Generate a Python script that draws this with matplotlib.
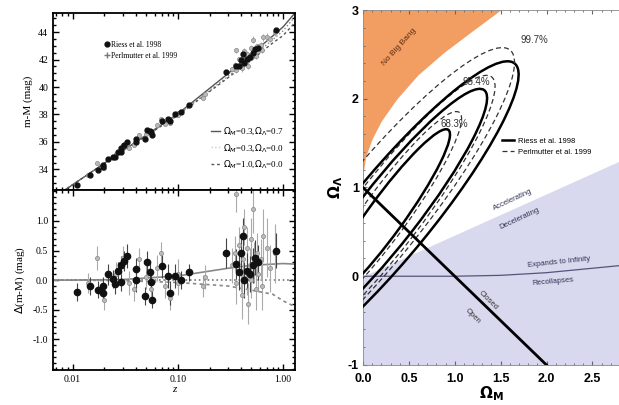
import numpy as np
import matplotlib.pyplot as plt
from matplotlib.patches import Ellipse
from matplotlib.ticker import FixedLocator, FixedFormatter, MultipleLocator, NullFormatter

# ---- Hubble diagram data ----
riess_z = [0.011, 0.0145, 0.0173, 0.0193, 0.0195, 0.0218, 0.024, 0.025, 0.027, 0.029,
           0.031, 0.033, 0.029, 0.040, 0.040, 0.049, 0.051, 0.054, 0.055, 0.057,
           0.070, 0.080, 0.085, 0.094, 0.106, 0.128,
           0.286, 0.355, 0.38, 0.42, 0.40, 0.43, 0.45, 0.49, 0.52, 0.54, 0.58, 0.86]
riess_mu = [32.89, 33.62, 33.96, 34.16, 34.29, 34.74, 34.88, 34.88, 35.28, 35.53,
            35.76, 35.99, 35.24, 36.19, 36.01, 36.20, 36.86, 36.82, 36.70, 36.48,
            37.50, 37.65, 37.49, 38.01, 38.15, 38.70,
            41.12, 41.50, 41.54, 42.42, 41.99, 41.73, 42.01, 42.18, 42.50, 42.74, 42.86, 44.16]
riess_dmu = [-0.20, -0.10, -0.16, -0.21, -0.10, 0.10, 0.02, -0.07, 0.16, 0.25,
             0.33, 0.41, -0.04, 0.18, 0.00, -0.27, 0.30, 0.13, -0.03, -0.33,
             0.23, 0.07, -0.22, 0.07, 0.00, 0.13,
             0.46, 0.27, 0.13, 0.75, 0.45, 0.00, 0.16, 0.10, 0.25, 0.38, 0.30, 0.50]
riess_err = [0.15, 0.15, 0.15, 0.15, 0.15, 0.18, 0.15, 0.17, 0.15, 0.15,
             0.17, 0.20, 0.15, 0.20, 0.20, 0.15, 0.20, 0.20, 0.15, 0.15,
             0.20, 0.20, 0.20, 0.20, 0.15, 0.15,
             0.25, 0.25, 0.30, 0.30, 0.30, 0.30, 0.30, 0.30, 0.30, 0.30, 0.30, 0.30]

perl_z = [0.014, 0.017, 0.020, 0.026, 0.030, 0.034, 0.038, 0.043, 0.050, 0.056,
          0.063, 0.069, 0.075, 0.084, 0.100, 0.101,
          0.172, 0.18, 0.33, 0.35, 0.36, 0.38, 0.40, 0.41, 0.42, 0.43, 0.45, 0.45,
          0.46, 0.48, 0.50, 0.50, 0.52, 0.53, 0.55, 0.57, 0.58, 0.62, 0.63, 0.65,
          0.70, 0.75, 0.83, 0.355]
perl_mu = [33.59, 34.45, 34.12, 35.14, 35.74, 35.59, 35.75, 36.52, 36.56, 36.62,
           37.24, 37.69, 37.33, 37.39, 38.10, 37.95,
           39.23, 39.50, 41.28, 41.64, 41.21, 42.01, 41.69, 41.36, 42.02, 42.63, 41.90, 42.40,
           41.51, 42.27, 42.14, 42.84, 43.45, 42.60, 42.26, 42.96, 42.66, 43.10, 42.69, 43.63,
           43.64, 43.49, 44.01, 42.68]
perl_dmu = [-0.05, 0.37, -0.33, 0.10, 0.38, -0.05, -0.15, 0.35, 0.05, -0.15,
            0.20, 0.45, -0.10, -0.30, 0.10, -0.05,
            -0.10, 0.05, 0.25, 0.45, -0.05, 0.60, 0.15, -0.25, 0.35, 0.90, 0.05, 0.55,
            -0.40, 0.25, 0.00, 0.70, 1.20, 0.30, -0.15, 0.45, 0.10, 0.35, -0.10, 0.75,
            0.55, 0.20, 0.45, 1.45]
perl_err = [0.17, 0.20, 0.18, 0.20, 0.20, 0.20, 0.20, 0.20, 0.20, 0.20,
            0.22, 0.20, 0.20, 0.20, 0.25, 0.20,
            0.18, 0.20, 0.30, 0.30, 0.35, 0.30, 0.35, 0.40, 0.30, 0.30, 0.30, 0.35,
            0.35, 0.30, 0.30, 0.35, 0.40, 0.35, 0.35, 0.35, 0.30, 0.35, 0.40, 0.45,
            0.50, 0.40, 0.50, 0.30]

# model curves
model_z = [0.0065, 0.01, 0.03, 0.1, 0.3, 0.5, 0.8, 1.0, 1.3]
mu_lam = [31.91, 32.88, 35.36, 38.05, 40.98, 42.39, 43.73, 44.38, 45.40]
mu_open = [31.91, 32.88, 35.35, 37.98, 40.78, 42.14, 43.46, 44.10, 45.13]
mu_eds = [31.91, 32.88, 35.34, 37.94, 40.68, 41.97, 43.22, 43.75, 44.70]
d_lam = [0, 0, 0.01, 0.07, 0.20, 0.25, 0.27, 0.28, 0.27]
d_open = [0, 0, 0, 0, 0, 0, 0, 0, 0]
d_eds = [0, 0, -0.01, -0.04, -0.10, -0.17, -0.24, -0.35, -0.45]

# ---- Omega_M / Omega_Lambda plane ----
nbb_om = [0, 0.03, 0.1, 0.2, 0.37, 0.6, 0.88, 1.2, 1.5]
nbb_ol = [1.15, 1.35, 1.55, 1.75, 2.0, 2.27, 2.52, 2.77, 3.0]
acc_om = [0, 2.8]
acc_ol = [0, 1.3]
exp_om = [0, 1.0, 1.5, 2.0, 2.5, 2.8]
exp_ol = [0, 0, 0.01, 0.04, 0.09, 0.12]
flat_om = [0, 2]
flat_ol = [1, -1]

levels = ['68.3%', '95.4%', '99.7%']
riess_cx = [0.241, 0.267, 0.284]
riess_cy = [0.667, 0.70, 0.675]
riess_a = [1.2, 1.75, 2.2]
riess_b = [0.20, 0.33, 0.455]
riess_ang = [55, 53, 51.6]
perl_cx = [0.246, 0.24, 0.122]
perl_cy = [0.70, 0.68, 0.66]
perl_a = [1.4, 1.95, 2.4]
perl_b = [0.25, 0.38, 0.50]
perl_ang = [55, 53.5, 52]

serif = 'Liberation Serif'
sans = 'Liberation Sans'

fig = plt.figure(figsize=(6.19, 4.05), dpi=100)
ax1 = fig.add_axes([0.0856, 0.531, 0.391, 0.437])
ax2 = fig.add_axes([0.0856, 0.0864, 0.391, 0.444])
ax3 = fig.add_axes([0.5864, 0.0988, 0.4136, 0.8765])

# top: distance modulus
ax1.plot(model_z, mu_lam, '-', color='#555555', lw=1.0)
ax1.plot(model_z, mu_open, ':', color='#888888', lw=1.0)
ax1.plot(model_z, mu_eds, '--', color='#555555', lw=1.0, dashes=(2, 2))
ax1.errorbar(perl_z, perl_mu, yerr=np.array(perl_err) * 0.6, fmt='o', ms=3,
             mfc='#bbbbbb', mec='#888888', ecolor='#aaaaaa', elinewidth=0.7, capsize=0, mew=0.5)
ax1.errorbar(riess_z, riess_mu, yerr=np.array(riess_err) * 0.6, fmt='o', ms=3.5,
             color='#111111', ecolor='#444444', elinewidth=0.7, capsize=0)

# bottom: residuals
ax2.plot(model_z, d_lam, '-', color='#888888', lw=1.2)
ax2.plot(model_z, d_open, ':', color='#777777', lw=1.2)
ax2.plot(model_z, d_eds, '--', color='#888888', lw=1.2, dashes=(2, 2))
ax2.errorbar(perl_z, perl_dmu, yerr=perl_err, fmt='o', ms=3,
             mfc='#bbbbbb', mec='#888888', ecolor='#aaaaaa', elinewidth=0.8, capsize=0, mew=0.5)
ax2.errorbar(riess_z, riess_dmu, yerr=riess_err, fmt='o', ms=4.5,
             color='#111111', ecolor='#444444', elinewidth=0.8, capsize=0)

for ax in (ax1, ax2):
    ax.set_xscale('log')
    ax.set_xlim(0.0065, 1.3)
    for s in ax.spines.values():
        s.set_linewidth(1.3)
    ax.tick_params(which='both', direction='in', top=True, right=True, labelsize=7,
                   width=1.0)
    ax.tick_params(which='major', length=4)
    ax.tick_params(which='minor', length=2)

ax1.set_ylim(32.5, 45.4)
ax1.yaxis.set_major_locator(FixedLocator([34, 36, 38, 40, 42, 44]))
ax1.yaxis.set_minor_locator(MultipleLocator(0.5))
ax1.xaxis.set_major_formatter(NullFormatter())
ax1.xaxis.set_minor_formatter(NullFormatter())
ax1.set_ylabel('m-M (mag)', family=serif, fontsize=8)

ax2.set_ylim(-1.52, 1.52)
ax2.yaxis.set_major_locator(FixedLocator([-1.0, -0.5, 0.0, 0.5, 1.0]))
ax2.yaxis.set_major_formatter(FixedFormatter(['-1.0', '-0.5', '0.0', '0.5', '1.0']))
ax2.yaxis.set_minor_locator(MultipleLocator(0.1))
ax2.xaxis.set_major_locator(FixedLocator([0.01, 0.1, 1.0]))
ax2.xaxis.set_major_formatter(FixedFormatter(['0.01', '0.10', '1.00']))
ax2.xaxis.set_minor_formatter(NullFormatter())
ax2.set_ylabel(r'$\Delta$(m-M) (mag)', family=serif, fontsize=8)
ax2.set_xlabel('z', family=serif, style='italic', fontsize=8, labelpad=1)
for lab in ax1.get_yticklabels() + ax2.get_yticklabels() + ax2.get_xticklabels():
    lab.set_family(serif)

# legends in the top panel
h_r = ax1.plot([], [], 'o', color='#111111', ms=3.5)[0]
h_p = ax1.plot([], [], '+', color='#777777', ms=4)[0]
leg1 = ax1.legend([h_r, h_p], ['Riess et al. 1998', 'Perlmutter et al. 1999'],
                  loc='upper left', bbox_to_anchor=(0.2, 0.86), frameon=False,
                  prop={'family': serif, 'size': 5.5}, handlelength=0.6,
                  handletextpad=0.3, labelspacing=0.4, borderaxespad=0)
ax1.add_artist(leg1)
h1 = ax1.plot([], [], '-', color='#555555', lw=1.0)[0]
h2 = ax1.plot([], [], ':', color='#cccccc', lw=1.0)[0]
h3 = ax1.plot([], [], '--', color='#555555', lw=1.0, dashes=(2, 2))[0]
ax1.legend([h1, h2, h3],
           [r'$\Omega_M$=0.3,$\Omega_\Lambda$=0.7', r'$\Omega_M$=0.3,$\Omega_\Lambda$=0.0',
            r'$\Omega_M$=1.0,$\Omega_\Lambda$=0.0'],
           loc='lower right', bbox_to_anchor=(0.97, 0.09), frameon=False,
           prop={'family': serif, 'size': 6.5}, handlelength=1.0,
           handletextpad=0.4, labelspacing=0.5, borderaxespad=0)

# right panel: Omega_M - Omega_Lambda plane
ax3.set_xlim(0, 2.79)
ax3.set_ylim(-1, 3)
ax3.fill_between(acc_om, -1, acc_ol, color='#d8d8ee', lw=0, zorder=0)
ax3.fill_between(nbb_om, nbb_ol, 3, color='#f29d62', lw=0, zorder=1)
ax3.plot(exp_om, exp_ol, '-', color='#55557a', lw=0.9, zorder=2)
ax3.plot(flat_om, flat_ol, '-', color='black', lw=2.0, zorder=4)

for i in range(3):
    e = Ellipse((riess_cx[i], riess_cy[i]), 2 * riess_a[i], 2 * riess_b[i],
                angle=riess_ang[i], fill=False, ec='black', lw=1.8, zorder=3)
    ax3.add_patch(e)
    e = Ellipse((perl_cx[i], perl_cy[i]), 2 * perl_a[i], 2 * perl_b[i],
                angle=perl_ang[i], fill=False, ec='#333333', lw=0.9, ls=(0, (4, 2.5)),
                zorder=3)
    ax3.add_patch(e)

ax3.text(1.0, 1.72, levels[0], fontsize=7, family=sans, ha='center', va='center',
         color='#333333', zorder=5)
ax3.text(1.24, 2.19, levels[1], fontsize=7, family=sans, ha='center', va='center',
         color='#333333', zorder=5)
ax3.text(1.87, 2.66, levels[2], fontsize=7, family=sans, ha='center', va='center',
         color='#333333', zorder=5)

ax3.text(0.4, 2.58, 'No Big Bang', fontsize=6, family=sans, rotation=48,
         ha='center', va='center', color='#5a2a10')
ax3.text(1.63, 0.86, 'Accelerating', fontsize=5.5, family=sans, rotation=25,
         ha='center', va='center', color='#333355')
ax3.text(1.71, 0.65, 'Decelerating', fontsize=5.5, family=sans, rotation=25,
         ha='center', va='center', color='#333355')
ax3.text(2.14, 0.16, 'Expands to Infinity', fontsize=5.5, family=sans, rotation=6,
         ha='center', va='center', color='#333355')
ax3.text(2.07, -0.06, 'Recollapses', fontsize=5.5, family=sans, rotation=5,
         ha='center', va='center', color='#333355')
ax3.text(1.36, -0.27, 'Closed', fontsize=5.5, family=sans, rotation=-45,
         ha='center', va='center', color='#333333')
ax3.text(1.2, -0.45, 'Open', fontsize=5.5, family=sans, rotation=-45,
         ha='center', va='center', color='#333333')

hr = ax3.plot([], [], '-', color='black', lw=1.8)[0]
hp = ax3.plot([], [], color='#333333', lw=0.9, ls=(0, (4, 2.5)))[0]
ax3.legend([hr, hp], ['Riess et al. 1998', 'Perlmutter et al. 1999'],
           loc='upper left', bbox_to_anchor=(0.53, 0.65), frameon=False,
           prop={'family': sans, 'size': 5.5}, handlelength=1.6,
           handletextpad=0.5, labelspacing=0.5, borderaxespad=0)

ax3.xaxis.set_major_locator(FixedLocator([0, 0.5, 1.0, 1.5, 2.0, 2.5]))
ax3.xaxis.set_major_formatter(FixedFormatter(['0.0', '0.5', '1.0', '1.5', '2.0', '2.5']))
ax3.xaxis.set_minor_locator(MultipleLocator(0.1))
ax3.yaxis.set_major_locator(FixedLocator([-1, 0, 1, 2, 3]))
ax3.yaxis.set_major_formatter(FixedFormatter(['-1', '0', '1', '2', '3']))
ax3.yaxis.set_minor_locator(MultipleLocator(0.2))
ax3.tick_params(which='both', direction='in', top=True, right=False, labelsize=9,
                color='#666666')
ax3.tick_params(axis='x', pad=6)
ax3.tick_params(axis='y', pad=3)
ax3.tick_params(which='major', length=3)
ax3.tick_params(which='minor', length=1.5)
for lab in ax3.get_xticklabels() + ax3.get_yticklabels():
    lab.set_family(sans)
    lab.set_fontweight('bold')
for side in ('top', 'left', 'bottom'):
    ax3.spines[side].set_color('#888888')
    ax3.spines[side].set_linewidth(0.6)
ax3.spines['right'].set_visible(False)
ax3.set_xlabel(r'$\mathbf{\Omega_M}$', fontsize=11, labelpad=-1)
ax3.set_ylabel(r'$\mathbf{\Omega_\Lambda}$', fontsize=11, labelpad=2)

fig.savefig('out.png', dpi=100)
